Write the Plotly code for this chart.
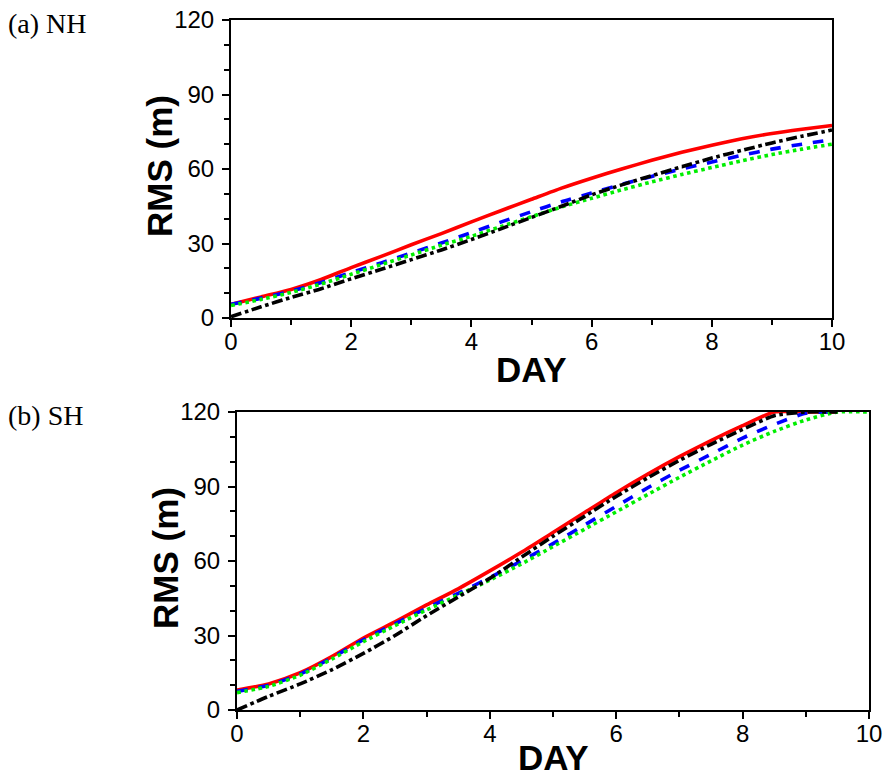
import plotly.graph_objects as go

W, H = 889, 778

DAYS = [0, 0.5, 1, 1.5, 2, 2.5, 3, 3.5, 4, 4.5, 5, 5.5, 6, 6.5, 7, 7.5, 8, 8.5, 9, 9.5, 10]

NH_RED = [5.5, 8.5, 11.5, 15.5, 20.3, 24.8, 29.5, 34, 38.7, 43.3, 47.8, 52.3, 56.3, 60, 63.5, 66.7, 69.6, 72.2, 74.3, 76, 77.5]
NH_BLUE = [5.5, 8, 10.8, 14.3, 18.3, 22.2, 26.2, 30.2, 34.4, 38.7, 42.8, 46.8, 50.3, 53.8, 57, 60, 62.8, 65.5, 68, 70, 71.8]
NH_GREEN = [5, 7.5, 10.3, 13.7, 17.6, 21.5, 25.4, 29.3, 32.9, 36.9, 40.8, 44.7, 48.2, 51.6, 54.8, 57.8, 60.6, 63.3, 65.8, 68, 70]
NH_BLACK = [0.5, 4.5, 8.3, 11.8, 15.8, 19.6, 23.5, 27.4, 31.6, 36, 40.5, 45, 49.6, 53.6, 57.3, 60.9, 64.4, 67.5, 70.5, 73.2, 75.7]

SH_RED = [8, 10.5, 15, 21.5, 29, 35.5, 42.3, 48.8, 56, 63.5, 71.5, 79.5, 87.5, 95, 102, 108.5, 114.5, 120, 120, 120, None]
SH_BLACK = [0, 5.5, 10.5, 16.2, 22.8, 30, 38, 45.5, 53, 61.5, 70, 78, 86, 93.5, 100.5, 107, 113, 118.5, 120, 120, None]
SH_BLUE = [7.5, 10, 14.5, 21, 28.3, 34.7, 41, 47, 53.3, 60, 67, 74.5, 82, 89.5, 96.5, 103, 109.5, 115, 119.5, 120, None]
SH_GREEN = [7, 9.5, 14, 20.5, 27.5, 34, 40.3, 46.3, 52.3, 58.8, 65.8, 72.8, 79.8, 86.8, 93.7, 100.3, 106.7, 112.2, 116.8, 120, 120]

Y_TICKS = [0, 30, 60, 90, 120]
X_TICKS = [0, 2, 4, 6, 8, 10]
PANEL_LABELS = ["(a) NH", "(b) SH"]
X_TITLE = "DAY"
Y_TITLE = "RMS (m)"

# pixel boxes of the two panels: (left, right, top, bottom)
BOX_A = (231, 832, 20, 318)
BOX_B = (237, 869, 412, 710)


def px_x(p):
    return p / W


def px_y(p):
    return 1 - p / H


fig = go.Figure()

styles = [
    ("red", "solid"),
    ("blue", "dash"),
    ("#00ee00", "dot"),
    ("black", "dashdot"),
]

for series, ax in [((NH_RED, NH_BLUE, NH_GREEN, NH_BLACK), ("x", "y")),
                   ((SH_RED, SH_BLUE, SH_GREEN, SH_BLACK), ("x2", "y2"))]:
    for vals, (col, dash) in zip(series, styles):
        fig.add_trace(go.Scatter(
            x=DAYS, y=vals, mode="lines", xaxis=ax[0], yaxis=ax[1],
            line=dict(color=col, dash=dash, width=3.6, shape="spline", smoothing=0.6),
            showlegend=False, hoverinfo="skip", cliponaxis=True,
        ))

tickfont = dict(family="Liberation Sans, Arial, sans-serif", size=24, color="black")


def axis_common():
    return dict(
        showgrid=False, zeroline=False, showline=True, linecolor="black",
        linewidth=2, mirror=True, ticks="outside", ticklen=7, tickwidth=1.5,
        tickcolor="black", tickfont=tickfont, automargin=False,
    )


for i, box in enumerate([BOX_A, BOX_B]):
    l, r, t, b = box
    xa = axis_common()
    xa.update(range=[0, 10], tickvals=X_TICKS, domain=[px_x(l), px_x(r)],
              ticklabelstandoff=-6,
              minor=dict(dtick=1, tick0=0, ticks="outside", ticklen=5, tickwidth=1.5, tickcolor="black"))
    ya = axis_common()
    ya.update(range=[0, 120], tickvals=Y_TICKS, domain=[px_y(b), px_y(t)],
              ticklabelstandoff=3,
              minor=dict(dtick=10, tick0=0, ticks="outside", ticklen=5, tickwidth=1.5, tickcolor="black"))
    if i == 0:
        xa["anchor"] = "y"
        ya["anchor"] = "x"
        fig.update_layout(xaxis=xa, yaxis=ya)
    else:
        xa["anchor"] = "y2"
        ya["anchor"] = "x2"
        fig.update_layout(xaxis2=xa, yaxis2=ya)

annots = []
title_font = dict(family="Liberation Sans, Arial, sans-serif", size=35, color="black")
for i, box in enumerate([BOX_A, BOX_B]):
    l, r, t, b = box
    annots.append(dict(text="<b>%s</b>" % X_TITLE, x=px_x((l + r) / 2), y=px_y(b + (51 if i == 0 else 47)),
                       xref="paper", yref="paper", showarrow=False, font=title_font,
                       xanchor="center", yanchor="middle"))
    annots.append(dict(text="<b>%s</b>" % Y_TITLE, x=px_x(l - 72), y=px_y((t + b) / 2 - 3),
                       xref="paper", yref="paper", showarrow=False, font=title_font,
                       textangle=-90, xanchor="center", yanchor="middle"))
    annots.append(dict(text=PANEL_LABELS[i], x=px_x(6), y=px_y(t + 3),
                       xref="paper", yref="paper", showarrow=False,
                       font=dict(family="Liberation Serif, Times New Roman, serif", size=28, color="black"),
                       xanchor="left", yanchor="middle"))

fig.update_layout(
    width=W, height=H, margin=dict(l=0, r=0, t=0, b=0),
    paper_bgcolor="white", plot_bgcolor="white", annotations=annots,
)

fig.write_html("out.html")
